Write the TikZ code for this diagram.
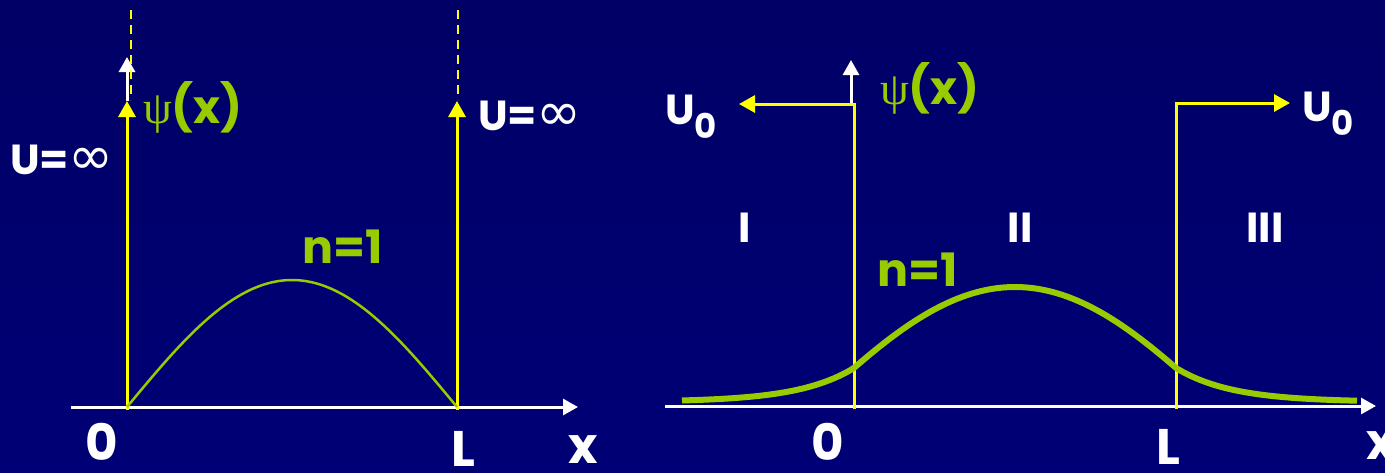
\documentclass[tikz,border=0pt]{standalone}
\usepackage{fontspec}
\setmainfont{Poppins}
\newfontfamily\greekfont{Liberation Serif}
\newfontfamily\symbfont{DejaVu Sans}
\usetikzlibrary{arrows.meta}
\definecolor{slideblue}{RGB}{0,0,102}
\definecolor{slidebluelow}{RGB}{0,0,118}
\definecolor{psigreen}{RGB}{153,204,0}
\definecolor{wallyellow}{RGB}{255,255,0}
\tikzset{
  axisline/.style={white, line width=3pt, -{Triangle[length=15pt,width=16pt]}},
  wallline/.style={wallyellow, line width=3pt, line join=miter, -{Triangle[length=16pt,width=17pt]}},
  wallguide/.style={wallyellow, line width=2pt, dash pattern=on 9pt off 6pt},
  lbl/.style={white, inner sep=0pt, font=\bfseries\fontsize{50}{50}\selectfont},
  ulbl/.style={lbl, font=\bfseries\fontsize{42}{42}\selectfont},
  glbl/.style={lbl, psigreen, font=\bfseries\fontsize{46}{46}\selectfont},
  nlbl/.style={lbl, psigreen, font=\bfseries\fontsize{46}{46}\selectfont},
}
\newcommand{\psix}{{\greekfont\mdseries ψ}(x)}
\newcommand{\Uinf}{U={\symbfont\mdseries\fontsize{54}{54}\selectfont ∞}}
\newcommand{\Uzero}{U\raisebox{-14pt}{\fontsize{34}{34}\selectfont 0}}
\begin{document}
\begin{tikzpicture}[x=1pt, y=-1pt]
        % Background
        \shade[top color=slideblue, bottom color=slidebluelow] (0,0) rectangle (1385,472);
        \useasboundingbox (0,0) rectangle (1385,472);

        % Coordinates (infinite well)
        \coordinate (A) at (71,407);
        \coordinate (B) at (578,407);
        \coordinate (C) at (127,410);
        \coordinate (D) at (127,101);
        \coordinate (E) at (127,57);
        \coordinate (F) at (131,10);
        \coordinate (G) at (131,100);
        \coordinate (H) at (457,410);
        \coordinate (I) at (457,101);
        \coordinate (J) at (458,10);
        \coordinate (K) at (458,100);

        % Coordinates (finite well)
        \coordinate (P) at (665,406);
        \coordinate (Q) at (1376,406);
        \coordinate (R) at (854,409);
        \coordinate (S) at (854,104);
        \coordinate (T) at (739,104);
        \coordinate (U) at (851,104);
        \coordinate (V) at (851,60);
        \coordinate (W) at (1176,409);
        \coordinate (X) at (1176,103);
        \coordinate (Y) at (1290,103);

        % Drawing (infinite well)
        \draw[axisline] (A) -- (B);
        \draw[axisline] (D) -- (E);
        \draw[wallguide] (F) -- (G);
        \draw[wallguide] (J) -- (K);
        \draw[wallline] (C) -- (D);
        \draw[wallline] (H) -- (I);
        \draw[psigreen, line width=2.5pt] plot[domain=127:457, samples=80] (\x, {407-127*sin((\x-127)/330*180)});

        % Drawing (finite well)
        \draw[axisline] (P) -- (Q);
        \draw[axisline] (U) -- (V);
        \draw[wallline] (R) -- (S) -- (T);
        \draw[wallline] (W) -- (X) -- (Y);
        \draw[psigreen, line width=6pt] plot[domain=682:1357, samples=200]
          (\x, {402-(abs(\x-1015)<161 ? 115*cos(0.452*(\x-1015)) : 34*exp(-0.018*(abs(\x-1015)-161)))});

        % Labels (infinite well)
        \node[glbl] (psiA) at (193,107) {\psix};
        \node[ulbl] (uinfA) at (62,160) {\Uinf};
        \node[ulbl] (uinfB) at (530,116) {\Uinf};
        \node[nlbl] (nA) at (343,247) {n=1};
        \node[lbl] (zeroA) at (102,442) {0};
        \node[lbl] (ellA) at (463,449) {L};
        \node[lbl] (exA) at (583,450) {x};

        % Labels (finite well)
        \node[glbl] (psiB) at (930,88) {\psix};
        \node[ulbl] (uzeroA) at (691,117) {\Uzero};
        \node[ulbl] (uzeroB) at (1328,114) {\Uzero};
        \node[ulbl] (regI) at (745,228) {I};
        \node[ulbl] (regII) at (1020,228) {II};
        \node[ulbl] (regIII) at (1265,228) {III};
        \node[nlbl] (nB) at (918,270) {n=1};
        \node[lbl] (zeroB) at (828,442) {0};
        \node[lbl] (ellB) at (1168,447) {L};
        \node[lbl] (exB) at (1381,446) {x};
\end{tikzpicture}
\end{document}
